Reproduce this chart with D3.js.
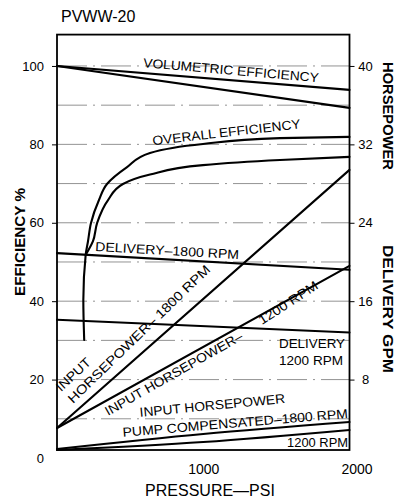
<!DOCTYPE html>
<html>
<head>
<meta charset="utf-8">
<script src="https://cdn.jsdelivr.net/npm/d3@7"></script>
<style>
  body { margin: 0; background: #fff; }
  svg { display: block; font-family: "Liberation Sans", Arial, Helvetica, sans-serif; }
</style>
</head>
<body>
<div id="vis"></div>
<script>
// PVWW-20 pump performance curves

const pressureEnds = [0, 2000];

// efficiency, percent (left axis)
const volEffA = [100, 93.9];
const volEffB = [100, 89.3];
const overallPsiA = [186, 180, 196, 212, 232, 287, 342, 479, 636, 998, 1525, 2000];
const overallEffA = [30.1, 40.3, 51.8, 55.3, 59.9, 65.8, 69.9, 74.2, 77.8, 80.1, 81.6, 81.9];
const overallPsiB = [196, 246, 274, 349, 451, 636, 998, 1525, 2000];
const overallEffB = [51.8, 55.3, 59.9, 65.8, 69.9, 72.3, 74.7, 76.0, 76.8];

// delivery, gpm (right axis)
const delivery1800 = [20.9, 19.2];
const delivery1200 = [14.1, 12.8];

// horsepower (right axis)
const inputHp1800 = [3.06, 29.4];
const inputHp1200 = [3.06, 19.6];
const pumpPsi = [0, 1000, 2000];
const pumpHp1800 = [0.92, 2.45, 3.67];
const pumpHp1200 = [0.82, 1.63, 2.86];

const effTicks = [0, 20, 40, 60, 80, 100];
const gridTicks = [10, 20, 30, 40, 50, 60, 70, 80, 90, 100];
const rightTicks = [8, 16, 24, 32, 40];
const psiTicks = [1000, 2000];

const width = 400, height = 504;

const svg = d3.select("#vis").append("svg")
  .attr("width", width)
  .attr("height", height);

const x = d3.scaleLinear().domain([0, 2000]).range([57, 349.5]);
const y = d3.scaleLinear().domain([0, 108]).range([458, 34.6]);
const yR = d3.scaleLinear().domain([0, 43.2]).range([458, 34.6]);
const floor = 2.04; // frame bottom, in percent

// grid
svg.append("g")
  .selectAll("line")
  .data(gridTicks)
  .join("line")
  .attr("x1", x(0)).attr("x2", x(2000))
  .attr("y1", d => y(d)).attr("y2", d => y(d))
  .attr("stroke", "#777")
  .attr("stroke-width", 0.8)
  .attr("stroke-dasharray", "30,6,2,6");

// axes (labels + ticks only, frame drawn separately)
const left = svg.append("g")
  .attr("transform", `translate(${x(0)},0)`)
  .call(d3.axisLeft(y).tickValues(effTicks).tickSize(5).tickPadding(8));
left.select(".domain").remove();
left.selectAll(".tick text").attr("font-size", 13).attr("font-family", null);
left.selectAll(".tick").filter(d => d === 0).select("line").remove();

const right = svg.append("g")
  .attr("transform", `translate(${x(2000)},0)`)
  .call(d3.axisRight(yR).tickValues(rightTicks).tickSize(5).tickPadding(4));
right.select(".domain").remove();
right.selectAll(".tick text")
  .attr("font-size", 13).attr("font-family", null)
  .attr("x", 16).attr("text-anchor", "middle");

const bottom = svg.append("g")
  .attr("transform", `translate(0,${y(floor)})`)
  .call(d3.axisBottom(x).tickValues(psiTicks).tickFormat(d3.format("d"))
    .tickSize(0).tickPadding(14));
bottom.select(".domain").remove();
bottom.selectAll(".tick text").attr("font-size", 14).attr("font-family", null)
  .attr("dx", d => d === 2000 ? 7 : 0);

// frame
svg.append("rect")
  .attr("x", x(0)).attr("y", y(108))
  .attr("width", x(2000) - x(0))
  .attr("height", y(floor) - y(108))
  .attr("fill", "none")
  .attr("stroke", "#000")
  .attr("stroke-width", 1.8);

// curves
function drawLine(xs, ys, sy, curve) {
  const pts = xs.map((v, i) => [x(v), sy(ys[i])]);
  svg.append("path")
    .attr("d", d3.line().curve(curve || d3.curveLinear)(pts))
    .attr("fill", "none")
    .attr("stroke", "#000")
    .attr("stroke-width", 2.1)
    .attr("stroke-linejoin", "round")
    .attr("stroke-linecap", "round");
}

drawLine(pressureEnds, volEffA, y);
drawLine(pressureEnds, volEffB, y);
drawLine(overallPsiA, overallEffA, y, d3.curveMonotoneY);
drawLine(overallPsiB, overallEffB, y, d3.curveMonotoneY);
drawLine(pressureEnds, delivery1800, yR);
drawLine(pressureEnds, delivery1200, yR);
drawLine(pressureEnds, inputHp1800, yR);
drawLine(pressureEnds, inputHp1200, yR);
drawLine(pumpPsi, pumpHp1800, yR, d3.curveMonotoneX);
drawLine(pumpPsi, pumpHp1200, yR, d3.curveMonotoneX);

// curve labels: psi / percent anchor, rotation, text length
const labels = [
  { t: "VOLUMETRIC EFFICIENCY", psi: 588, pct: 99.7, r: 4.9, len: 176 },
  { t: "OVERALL EFFICIENCY", psi: 656, pct: 79.8, r: -6.5, len: 149 },
  { t: "DELIVERY\u20131800 RPM", psi: 260, pct: 52.8, r: 3.2, len: 144 },
  { t: "INPUT", psi: 27, pct: 16.8, r: -43, len: 42 },
  { t: "HORSEPOWER\u2013 1800 RPM", psi: 109, pct: 13.8, r: -44, len: 192 },
  { t: "INPUT HORSEPOWER\u2013", psi: 349, pct: 10.7, r: -29.6, len: 156 },
  { t: "1200 RPM", psi: 1402, pct: 33.9, r: -33, len: 68 },
  { t: "DELIVERY", psi: 1518, pct: 28.1, r: 0, len: 66 },
  { t: "1200 RPM", psi: 1518, pct: 23.7, r: 0, len: 64 },
  { t: "INPUT HORSEPOWER", psi: 568, pct: 10.5, r: -5.5, len: 146 },
  { t: "PUMP COMPENSATED\u20131800 RPM", psi: 451, pct: 5.4, r: -4.8, len: 226 },
  { t: "1200 RPM", psi: 1573, pct: 2.8, r: 0, len: 61 }
];

svg.append("g")
  .selectAll("text")
  .data(labels)
  .join("text")
  .attr("transform", d => `translate(${x(d.psi)},${y(d.pct)}) rotate(${d.r})`)
  .attr("font-size", 13)
  .attr("textLength", d => d.len)
  .attr("lengthAdjust", "spacingAndGlyphs")
  .text(d => d.t);

// titles
svg.append("text")
  .attr("x", 61).attr("y", 22)
  .attr("font-size", 16)
  .text("PVWW-20");

svg.append("text")
  .attr("x", 210).attr("y", 496)
  .attr("text-anchor", "middle")
  .attr("font-size", 16)
  .text("PRESSURE\u2014PSI");

svg.append("text")
  .attr("transform", "translate(25,296) rotate(-90)")
  .attr("font-size", 14)
  .attr("font-weight", "bold")
  .attr("textLength", 108)
  .attr("lengthAdjust", "spacingAndGlyphs")
  .text("EFFICIENCY %");

svg.append("text")
  .attr("transform", "translate(383,62) rotate(90)")
  .attr("font-size", 14)
  .attr("font-weight", "bold")
  .attr("textLength", 108)
  .attr("lengthAdjust", "spacingAndGlyphs")
  .text("HORSEPOWER");

svg.append("text")
  .attr("transform", "translate(383,245) rotate(90)")
  .attr("font-size", 14)
  .attr("font-weight", "bold")
  .attr("textLength", 128)
  .attr("lengthAdjust", "spacingAndGlyphs")
  .text("DELIVERY GPM");
</script>
</body>
</html>
